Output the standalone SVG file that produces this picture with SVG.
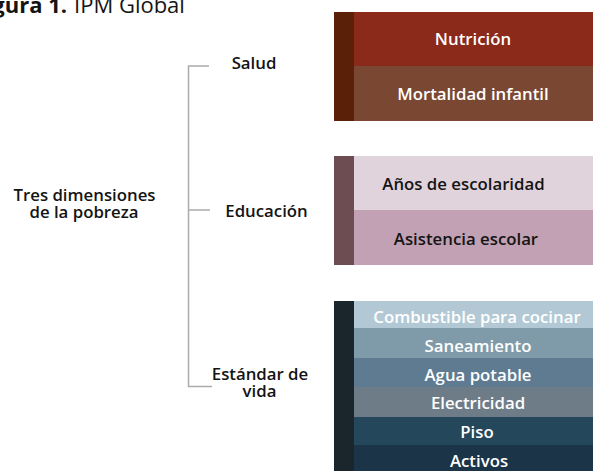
<svg xmlns="http://www.w3.org/2000/svg" width="593" height="471" viewBox="0 0 593 471">
<style>
text{font-family:"Open Sans","Noto Sans","Liberation Sans",sans-serif;font-weight:600;font-size:16.8px;}
.lbl{fill:#141414;text-anchor:middle;}
.w{fill:#ffffff;text-anchor:middle;}
.d{fill:#141414;text-anchor:middle;}
.conn{fill:none;stroke:#ababab;stroke-width:1.5;}
</style>
<rect width="593" height="471" fill="#ffffff"/>
<g id="title">
<text x="67" y="13" style="font-size:22px;fill:#141414;font-weight:700;text-anchor:end">Figura 1.</text>
<text x="74" y="13" style="font-size:22px;fill:#141414;font-weight:400">IPM Global</text>
</g>
<g id="connectors">
<path class="conn" d="M209,66 H188.5 V386.5 H212"/>
<path class="conn" d="M188.5,210 H210"/>
</g>
<g id="root"><text class="lbl" x="84.5" y="200.5">Tres dimensiones</text><text class="lbl" x="84" y="218">de la pobreza</text></g>
<g id="salud"><text class="lbl" x="254" y="69">Salud</text></g>
<g id="educacion"><text class="lbl" x="266.5" y="216.5">Educación</text></g>
<g id="estandar"><text class="lbl" x="260" y="380">Estándar de</text><text class="lbl" x="259.5" y="397">vida</text></g>
<g id="salud-box">
<rect x="334" y="12" width="20" height="109" fill="#5b2008"/>
<rect x="354" y="12" width="239" height="54" fill="#8b2a1b"/>
<rect x="354" y="66" width="239" height="55" fill="#7a4733"/>
<text class="w" x="473" y="45">Nutrición</text>
<text class="w" x="473" y="100">Mortalidad infantil</text>
</g>
<g id="educacion-box">
<rect x="334" y="156" width="20" height="109" fill="#6d4d51"/>
<rect x="354" y="156" width="239" height="54" fill="#e0d3dc"/>
<rect x="354" y="210" width="239" height="55" fill="#c1a1b3"/>
<text class="d" x="463.5" y="190">Años de escolaridad</text>
<text class="d" x="466" y="245">Asistencia escolar</text>
</g>
<g id="estandar-box">
<rect x="334" y="301" width="20" height="170" fill="#1b252c"/>
<rect x="354" y="301" width="239" height="27" fill="#b2c9d5"/>
<rect x="354" y="328" width="239" height="30" fill="#7f9aa9"/>
<rect x="354" y="358" width="239" height="29" fill="#5e7b91"/>
<rect x="354" y="387" width="239" height="30" fill="#6e7c88"/>
<rect x="354" y="417" width="239" height="28" fill="#24475c"/>
<rect x="354" y="445" width="239" height="26" fill="#1c3448"/>
<text class="w" x="477" y="323">Combustible para cocinar</text>
<text class="w" x="478" y="352">Saneamiento</text>
<text class="w" x="478" y="380.5">Agua potable</text>
<text class="w" x="478" y="409">Electricidad</text>
<text class="w" x="477" y="438">Piso</text>
<text class="w" x="479" y="466.5">Activos</text>
</g>
</svg>
